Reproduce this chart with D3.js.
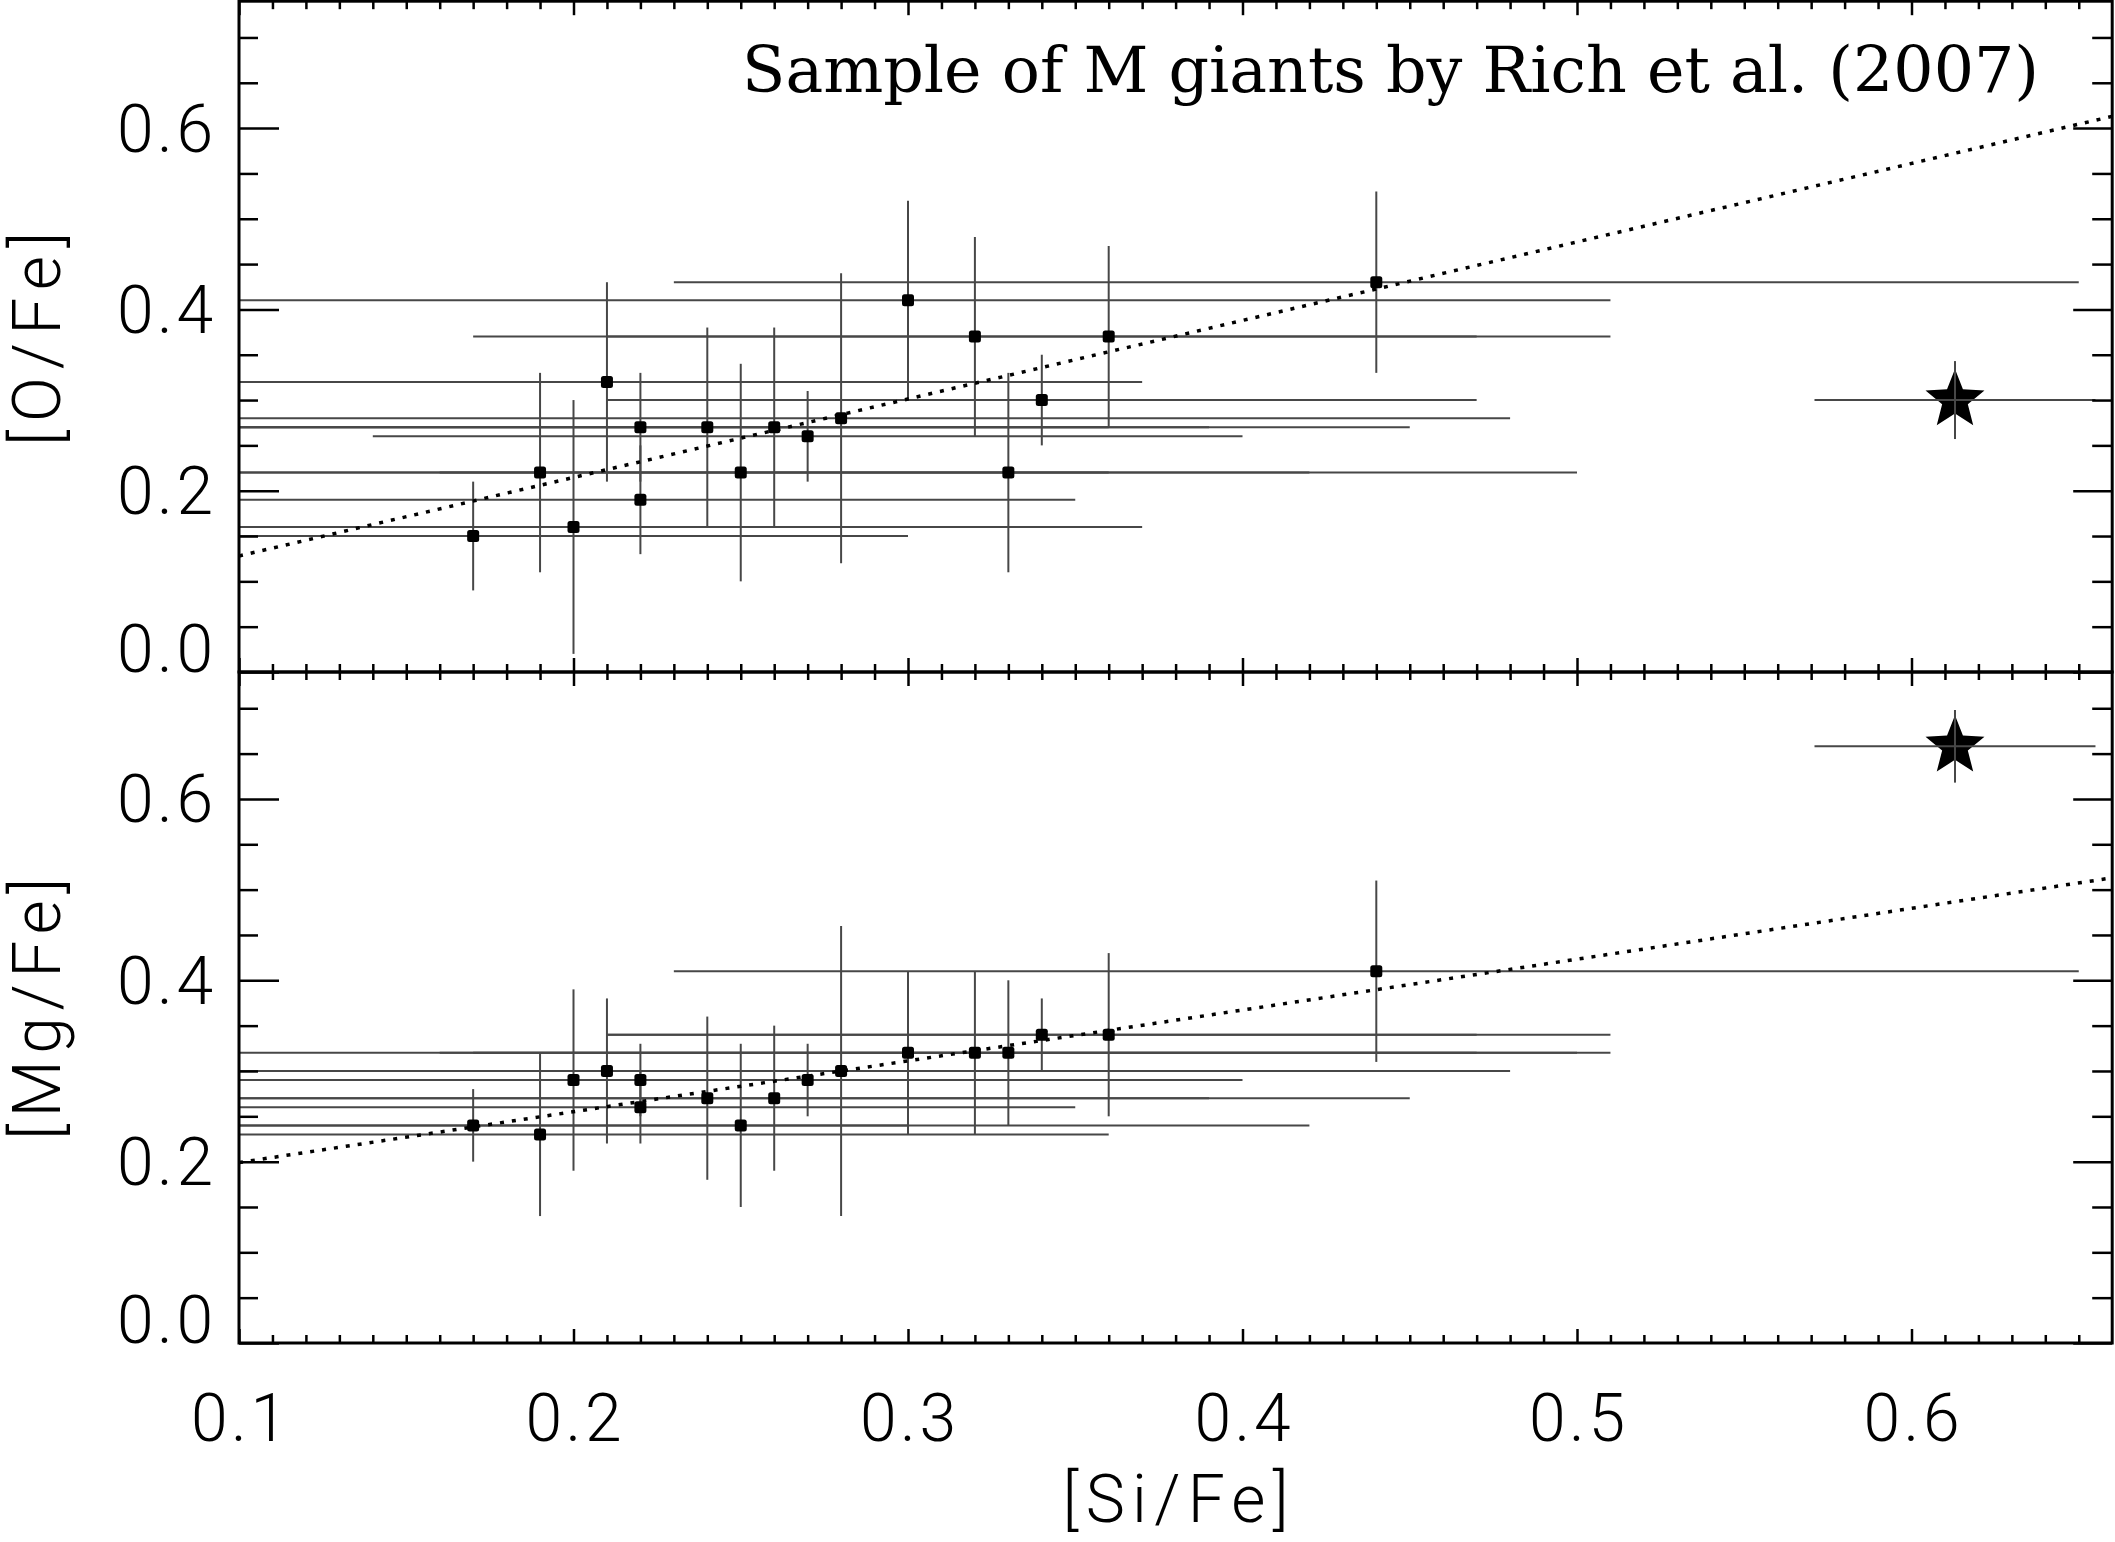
<!DOCTYPE html>
<html><head><meta charset="utf-8">
<script src="https://cdn.jsdelivr.net/npm/d3@7"></script>
<style>html,body{margin:0;padding:0;background:#fff;} svg{display:block;}</style>
</head><body>
<svg id="chart" width="2115" height="1542"></svg>
<script>
// ---------------- data ----------------
const siFe   = [0.17,0.19,0.20,0.21,0.22,0.22,0.24,0.25,0.26,0.27,0.28,0.30,0.32,0.33,0.34,0.36,0.44];
const siErr  = [0.13,0.17,0.17,0.16,0.14,0.13,0.15,0.17,0.19,0.13,0.20,0.21,0.15,0.17,0.13,0.15,0.21];
const oFe    = [0.15,0.22,0.16,0.32,0.27,0.19,0.27,0.22,0.27,0.26,0.28,0.41,0.37,0.22,0.30,0.37,0.43];
const oErr   = [0.06,0.11,0.14,0.11,0.06,0.06,0.11,0.12,0.11,0.05,0.16,0.11,0.11,0.11,0.05,0.10,0.10];
const mgFe   = [0.24,0.23,0.29,0.30,0.29,0.26,0.27,0.24,0.27,0.29,0.30,0.32,0.32,0.32,0.34,0.34,0.41];
const mgErr  = [0.04,0.09,0.10,0.08,0.04,0.04,0.09,0.09,0.08,0.04,0.16,0.09,0.09,0.08,0.04,0.09,0.10];
// the special star
const starSi = [0.613], starSiErr = [0.042];
const starO  = [0.30],  starOErr  = [0.043];
const starMg = [0.658], starMgErr = [0.04];
// dotted fit lines (end points)
const fitX   = [0.10, 0.66];
const fitO   = [0.128, 0.613];
const fitMg  = [0.199, 0.513];
// axes
const xDomain = [0.10, 0.66];
const yDomain = [0.0, 0.74];
const xMajor = [0.1,0.2,0.3,0.4,0.5,0.6];
const xTickLabels = ["0.1","0.2","0.3","0.4","0.5","0.6"];
const xMinor = [0.11,0.12,0.13,0.14,0.15,0.16,0.17,0.18,0.19,0.21,0.22,0.23,0.24,0.25,0.26,0.27,0.28,0.29,
  0.31,0.32,0.33,0.34,0.35,0.36,0.37,0.38,0.39,0.41,0.42,0.43,0.44,0.45,0.46,0.47,0.48,0.49,
  0.51,0.52,0.53,0.54,0.55,0.56,0.57,0.58,0.59,0.61,0.62,0.63,0.64,0.65];
const yMajor = [0.0,0.2,0.4,0.6];
const yTickLabels = ["0.0","0.2","0.4","0.6"];
const yMinor = [0.05,0.10,0.15,0.25,0.30,0.35,0.45,0.50,0.55,0.65,0.70];
const titleText = "Sample of M giants by Rich et al. (2007)";
const xTitle = "[Si/Fe]";
const yTitles = ["[O/Fe]","[Mg/Fe]"];

// ---------------- layout ----------------
const W=2115, H=1542;
const plotL=239, plotR=2112.2;
const svg = d3.select("#chart");
svg.append("rect").attr("width",W).attr("height",H).attr("fill","#fff");
const x = d3.scaleLinear().domain(xDomain).range([plotL, plotR]);
const tickFont = "Roboto, 'DejaVu Sans', sans-serif";
const errCol = "#474747";

const panels = [
  {top:1.2, bottom:672, yv:oFe, ye:oErr, sy:starO, sye:starOErr, fit:fitO, title:yTitles[0], tlen:214, tcy:339},
  {top:672, bottom:1343, yv:mgFe, ye:mgErr, sy:starMg, sye:starMgErr, fit:fitMg, title:yTitles[1], tlen:262, tcy:1009}
];

function starPath(R, r){
  const pts=[];
  for(let i=0;i<10;i++){
    const a = -Math.PI/2 + i*Math.PI/5;
    const rr = i%2===0 ? R : r;
    pts.push([rr*Math.cos(a), rr*Math.sin(a)]);
  }
  return "M"+pts.map(p=>p[0].toFixed(2)+","+p[1].toFixed(2)).join("L")+"Z";
}

panels.forEach((p,pi)=>{
  const y = d3.scaleLinear().domain(yDomain).range([p.bottom, p.top]);
  const clipId = "clip"+pi;
  svg.append("clipPath").attr("id",clipId).append("rect")
    .attr("x",plotL).attr("y",p.top).attr("width",plotR-plotL).attr("height",p.bottom-p.top);
  const g = svg.append("g").attr("clip-path","url(#"+clipId+")");

  // horizontal error bars
  g.selectAll(".hx").data(siFe).join("line")
    .attr("x1",(d,i)=>x(d-siErr[i])).attr("x2",(d,i)=>x(d+siErr[i]))
    .attr("y1",(d,i)=>y(p.yv[i])).attr("y2",(d,i)=>y(p.yv[i]))
    .attr("stroke",errCol).attr("stroke-width",2);
  // vertical error bars
  g.selectAll(".vy").data(siFe).join("line")
    .attr("x1",d=>x(d)).attr("x2",d=>x(d))
    .attr("y1",(d,i)=>y(p.yv[i]-p.ye[i])).attr("y2",(d,i)=>y(p.yv[i]+p.ye[i]))
    .attr("stroke",errCol).attr("stroke-width",2);
  // fit line (dotted)
  g.append("path").datum(fitX.map((d,i)=>[d,p.fit[i]]))
    .attr("d", d3.line().x(d=>x(d[0])).y(d=>y(d[1])))
    .attr("fill","none").attr("stroke","#000").attr("stroke-width",3.5)
    .attr("stroke-dasharray","4 8");
  // markers
  g.selectAll(".pt").data(siFe).join("rect")
    .attr("x",d=>x(d)-6).attr("y",(d,i)=>y(p.yv[i])-6)
    .attr("width",12).attr("height",12).attr("rx",2.5).attr("fill","#000");
  // star
  g.selectAll(".st").data(starSi).join("path")
    .attr("transform",(d,i)=>`translate(${x(d)},${y(p.sy[i])})`)
    .attr("d",starPath(31,13.5)).attr("fill","#000");
  g.selectAll(".sth").data(starSi).join("line")
    .attr("x1",(d,i)=>x(d-starSiErr[i])).attr("x2",(d,i)=>x(d+starSiErr[i]))
    .attr("y1",(d,i)=>y(p.sy[i])).attr("y2",(d,i)=>y(p.sy[i]))
    .attr("stroke",errCol).attr("stroke-width",2);
  g.selectAll(".stv").data(starSi).join("line")
    .attr("x1",d=>x(d)).attr("x2",d=>x(d))
    .attr("y1",(d,i)=>y(p.sy[i]-p.sye[i])).attr("y2",(d,i)=>y(p.sy[i]+p.sye[i]))
    .attr("stroke",errCol).attr("stroke-width",2);

  // axes ticks
  const styleAxis = sel => {
    sel.select(".domain").remove();
    sel.selectAll("line").attr("stroke","#000").attr("stroke-width",2.5);
    sel.selectAll("text").remove();
  };
  svg.append("g").attr("transform",`translate(${plotL},0)`)
    .call(d3.axisLeft(y).tickValues(yMajor).tickSize(-40)).call(styleAxis);
  svg.append("g").attr("transform",`translate(${plotL},0)`)
    .call(d3.axisLeft(y).tickValues(yMinor).tickSize(-19)).call(styleAxis);
  svg.append("g").attr("transform",`translate(${plotR},0)`)
    .call(d3.axisRight(y).tickValues(yMajor).tickSize(-39)).call(styleAxis);
  svg.append("g").attr("transform",`translate(${plotR},0)`)
    .call(d3.axisRight(y).tickValues(yMinor).tickSize(-20)).call(styleAxis);
  svg.append("g").attr("transform",`translate(0,${p.bottom})`)
    .call(d3.axisBottom(x).tickValues(xMajor).tickSize(-14)).call(styleAxis);
  svg.append("g").attr("transform",`translate(0,${p.bottom})`)
    .call(d3.axisBottom(x).tickValues(xMinor).tickSize(-8)).call(styleAxis);
  svg.append("g").attr("transform",`translate(0,${p.top})`)
    .call(d3.axisTop(x).tickValues(xMajor).tickSize(-14)).call(styleAxis);
  svg.append("g").attr("transform",`translate(0,${p.top})`)
    .call(d3.axisTop(x).tickValues(xMinor).tickSize(-8)).call(styleAxis);

  // frame
  svg.append("rect").attr("x",plotL).attr("y",p.top).attr("width",plotR-plotL).attr("height",p.bottom-p.top)
    .attr("fill","none").attr("stroke","#000").attr("stroke-width",3);

  // y tick labels
  svg.selectAll(null).data(yMajor).join("text")
    .attr("x",213)
    .attr("y",d=> d===0 ? p.bottom : y(d)+23.5)
    .attr("text-anchor","end")
    .attr("font-family",tickFont).attr("font-weight",300).attr("font-size",66)
    .attr("textLength",96).attr("lengthAdjust","spacing")
    .attr("fill","#000")
    .text((d,i)=>yTickLabels[i]);

  // y title
  svg.append("text")
    .attr("transform",`translate(60,${p.tcy}) rotate(-90)`)
    .attr("text-anchor","middle")
    .attr("font-family",tickFont).attr("font-weight",300).attr("font-size",66)
    .attr("textLength",p.tlen).attr("lengthAdjust","spacing")
    .attr("fill","#000")
    .text(p.title);
});

// x tick labels
svg.selectAll(null).data(xMajor).join("text")
  .attr("x",d=>x(d)).attr("y",1441)
  .attr("text-anchor","middle")
  .attr("font-family",tickFont).attr("font-weight",300).attr("font-size",66)
  .attr("textLength",96).attr("lengthAdjust","spacing")
  .attr("fill","#000")
  .text((d,i)=>xTickLabels[i]);

// x title
svg.append("text").attr("x",(plotL+plotR)/2).attr("y",1522)
  .attr("text-anchor","middle")
  .attr("font-family",tickFont).attr("font-weight",300).attr("font-size",66)
  .attr("textLength",226).attr("lengthAdjust","spacing")
  .attr("fill","#000").text(xTitle);

// title
const t = svg.append("text").attr("x",2039).attr("y",91.7)
  .attr("text-anchor","end")
  .attr("font-family","'DejaVu Serif', serif").attr("font-size",60)
  .attr("fill","#000").text(titleText);
const len = t.node().getComputedTextLength();
if (len>0) t.attr("font-size", 60*1297/len);
</script>
</body></html>
